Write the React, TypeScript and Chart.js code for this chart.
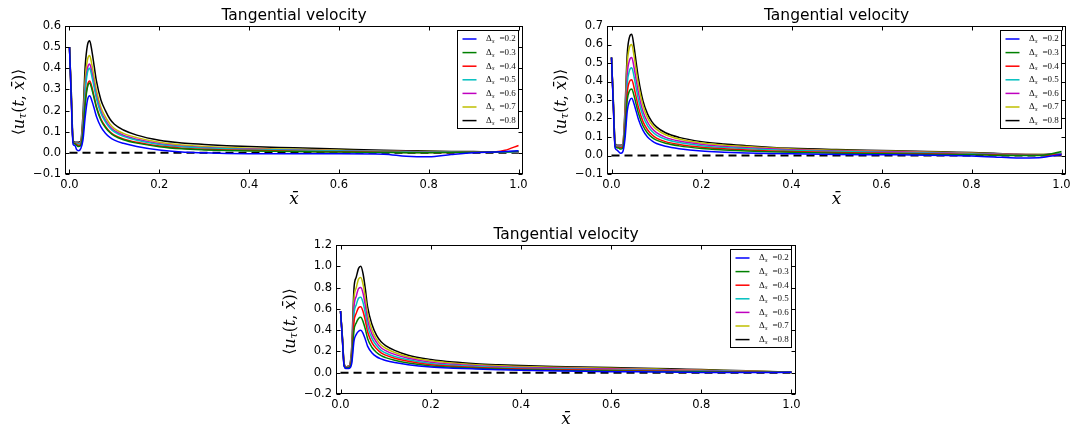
import React, { useEffect, useRef } from "react";
import { Chart, registerables } from "chart.js";
Chart.register(...registerables);

const TITLE = "Tangential velocity";
const X = [0, 0.004, 0.008, 0.012, 0.016, 0.02, 0.025, 0.03, 0.035, 0.04, 0.045, 0.05, 0.055, 0.06, 0.07, 0.08, 0.09, 0.1, 0.12, 0.15, 0.2, 0.25, 0.3, 0.35, 0.4, 0.5, 0.6, 0.7, 0.75, 0.8, 0.85, 0.9, 0.95, 0.97, 1.0];
const LABELS = ["0.2", "0.3", "0.4", "0.5", "0.6", "0.7", "0.8"];
const COLORS = ["#0000ff", "#008000", "#ff0000", "#00bfbf", "#bf00bf", "#bfbf00", "#000000"];
const X_TICKS = [0, 0.2, 0.4, 0.6, 0.8, 1.0];
const Y_TICKS_1 = [-0.1, 0, 0.1, 0.2, 0.3, 0.4, 0.5, 0.6];
const Y_TICKS_2 = [-0.1, 0, 0.1, 0.2, 0.3, 0.4, 0.5, 0.6, 0.7];
const Y_TICKS_3 = [-0.2, 0, 0.2, 0.4, 0.6, 0.8, 1.0, 1.2];
const ZERO_X = [0, 1];

// Panel 1
const P1_BLUE = [0.50, 0.25, 0.04, 0.035, 0.015, 0.01, 0.02, 0.06, 0.17, 0.25, 0.27, 0.245, 0.21, 0.172, 0.123, 0.093, 0.073, 0.06, 0.045, 0.03, 0.013, 0.004, 0.0, -0.003, -0.004, -0.004, -0.004, -0.006, -0.016, -0.019, -0.008, 0.001, 0.004, 0.006, 0.01];
const P1_GREEN = [0.50, 0.26, 0.05, 0.042, 0.035, 0.03, 0.035, 0.09, 0.23, 0.31, 0.33, 0.30, 0.257, 0.213, 0.154, 0.12, 0.096, 0.08, 0.062, 0.046, 0.029, 0.019, 0.014, 0.011, 0.009, 0.006, 0.004, 0.002, 0.001, 0.001, 0.002, 0.003, 0.004, 0.005, 0.008];
const P1_RED = [0.50, 0.26, 0.05, 0.045, 0.04, 0.035, 0.04, 0.10, 0.24, 0.32, 0.34, 0.31, 0.265, 0.22, 0.16, 0.125, 0.10, 0.084, 0.066, 0.05, 0.032, 0.022, 0.017, 0.014, 0.012, 0.008, 0.005, 0.003, 0.002, 0.002, 0.002, 0.003, 0.005, 0.012, 0.035];
const P1_CYAN = [0.50, 0.27, 0.05, 0.046, 0.045, 0.042, 0.045, 0.12, 0.29, 0.38, 0.40, 0.36, 0.31, 0.257, 0.187, 0.147, 0.118, 0.099, 0.078, 0.06, 0.04, 0.029, 0.023, 0.019, 0.016, 0.012, 0.009, 0.006, 0.005, 0.004, 0.004, 0.004, 0.004, 0.004, 0.006];
const P1_MAGENTA = [0.50, 0.27, 0.05, 0.047, 0.046, 0.044, 0.047, 0.13, 0.31, 0.40, 0.42, 0.38, 0.325, 0.27, 0.197, 0.155, 0.125, 0.105, 0.083, 0.064, 0.043, 0.031, 0.025, 0.021, 0.018, 0.014, 0.01, 0.007, 0.006, 0.005, 0.004, 0.004, 0.004, 0.004, 0.005];
const P1_YELLOW = [0.50, 0.28, 0.05, 0.048, 0.047, 0.046, 0.05, 0.15, 0.35, 0.44, 0.46, 0.415, 0.355, 0.295, 0.215, 0.17, 0.137, 0.115, 0.092, 0.072, 0.05, 0.037, 0.03, 0.025, 0.022, 0.017, 0.012, 0.008, 0.007, 0.006, 0.005, 0.004, 0.003, 0.003, 0.004];
const P1_BLACK = [0.50, 0.29, 0.06, 0.05, 0.05, 0.05, 0.055, 0.18, 0.41, 0.51, 0.53, 0.48, 0.41, 0.34, 0.25, 0.20, 0.16, 0.135, 0.108, 0.084, 0.06, 0.047, 0.04, 0.034, 0.03, 0.024, 0.018, 0.012, 0.01, 0.009, 0.007, 0.006, 0.005, 0.005, 0.005];

// Panel 2
const P2_BLUE = [0.53, 0.27, 0.04, 0.03, 0.02, 0.012, 0.02, 0.09, 0.24, 0.295, 0.31, 0.28, 0.237, 0.195, 0.136, 0.10, 0.079, 0.065, 0.05, 0.037, 0.024, 0.018, 0.014, 0.011, 0.009, 0.006, 0.004, 0.002, 0.0, -0.003, -0.008, -0.013, -0.012, -0.006, 0.005];
const P2_GREEN = [0.53, 0.28, 0.05, 0.042, 0.04, 0.035, 0.04, 0.13, 0.30, 0.35, 0.36, 0.324, 0.275, 0.227, 0.161, 0.122, 0.098, 0.083, 0.066, 0.052, 0.038, 0.03, 0.024, 0.02, 0.017, 0.012, 0.009, 0.007, 0.005, 0.004, 0.002, 0.0, 0.0, 0.005, 0.022];
const P2_RED = [0.53, 0.28, 0.05, 0.045, 0.045, 0.042, 0.045, 0.15, 0.34, 0.40, 0.41, 0.369, 0.313, 0.259, 0.183, 0.139, 0.112, 0.094, 0.075, 0.06, 0.045, 0.036, 0.03, 0.025, 0.021, 0.016, 0.013, 0.01, 0.008, 0.006, 0.004, 0.001, 0.001, 0.002, 0.006];
const P2_CYAN = [0.53, 0.29, 0.055, 0.048, 0.048, 0.047, 0.05, 0.18, 0.39, 0.46, 0.475, 0.428, 0.363, 0.30, 0.213, 0.162, 0.131, 0.11, 0.088, 0.07, 0.053, 0.043, 0.037, 0.031, 0.027, 0.021, 0.017, 0.013, 0.011, 0.009, 0.006, 0.003, 0.003, 0.004, 0.008];
const P2_MAGENTA = [0.53, 0.29, 0.06, 0.05, 0.05, 0.05, 0.054, 0.20, 0.44, 0.515, 0.53, 0.477, 0.405, 0.336, 0.238, 0.181, 0.146, 0.124, 0.098, 0.078, 0.06, 0.049, 0.042, 0.036, 0.031, 0.025, 0.021, 0.016, 0.013, 0.011, 0.008, 0.005, 0.004, 0.005, 0.009];
const P2_YELLOW = [0.53, 0.30, 0.065, 0.052, 0.052, 0.052, 0.057, 0.23, 0.50, 0.585, 0.60, 0.54, 0.458, 0.38, 0.27, 0.205, 0.166, 0.141, 0.112, 0.089, 0.068, 0.056, 0.048, 0.041, 0.035, 0.029, 0.024, 0.019, 0.016, 0.013, 0.01, 0.006, 0.005, 0.006, 0.01];
const P2_BLACK = [0.53, 0.30, 0.07, 0.055, 0.055, 0.055, 0.06, 0.25, 0.55, 0.64, 0.655, 0.59, 0.50, 0.415, 0.295, 0.225, 0.182, 0.155, 0.123, 0.098, 0.075, 0.062, 0.053, 0.045, 0.039, 0.032, 0.027, 0.022, 0.019, 0.016, 0.012, 0.007, 0.006, 0.007, 0.012];

// Panel 3
const P3_BLUE = [0.58, 0.32, 0.06, 0.04, 0.04, 0.042, 0.09, 0.30, 0.36, 0.39, 0.40, 0.37, 0.315, 0.25, 0.185, 0.15, 0.13, 0.115, 0.095, 0.075, 0.054, 0.043, 0.035, 0.028, 0.022, 0.015, 0.01, 0.007, 0.005, 0.003, 0.002, 0.002, 0.002, 0.003, 0.004];
const P3_GREEN = [0.58, 0.33, 0.065, 0.045, 0.047, 0.05, 0.12, 0.40, 0.47, 0.51, 0.52, 0.48, 0.41, 0.322, 0.237, 0.19, 0.16, 0.142, 0.117, 0.091, 0.064, 0.051, 0.042, 0.035, 0.028, 0.021, 0.016, 0.012, 0.01, 0.008, 0.006, 0.005, 0.004, 0.004, 0.004];
const P3_RED = [0.58, 0.33, 0.07, 0.048, 0.05, 0.055, 0.14, 0.48, 0.56, 0.61, 0.62, 0.575, 0.49, 0.385, 0.28, 0.225, 0.187, 0.165, 0.136, 0.107, 0.075, 0.06, 0.05, 0.042, 0.035, 0.028, 0.022, 0.017, 0.014, 0.012, 0.009, 0.007, 0.005, 0.005, 0.005];
const P3_CYAN = [0.58, 0.34, 0.075, 0.05, 0.052, 0.058, 0.16, 0.55, 0.64, 0.70, 0.71, 0.66, 0.56, 0.44, 0.32, 0.255, 0.21, 0.185, 0.153, 0.121, 0.087, 0.069, 0.058, 0.049, 0.042, 0.035, 0.028, 0.022, 0.019, 0.016, 0.013, 0.01, 0.007, 0.006, 0.006];
const P3_MAGENTA = [0.58, 0.34, 0.08, 0.052, 0.055, 0.062, 0.18, 0.62, 0.72, 0.79, 0.80, 0.745, 0.63, 0.495, 0.36, 0.285, 0.235, 0.208, 0.172, 0.136, 0.099, 0.079, 0.066, 0.057, 0.05, 0.042, 0.035, 0.028, 0.024, 0.02, 0.016, 0.012, 0.009, 0.008, 0.007];
const P3_YELLOW = [0.58, 0.35, 0.085, 0.055, 0.058, 0.065, 0.2, 0.70, 0.80, 0.88, 0.895, 0.83, 0.705, 0.553, 0.40, 0.315, 0.26, 0.23, 0.19, 0.15, 0.112, 0.09, 0.076, 0.066, 0.058, 0.049, 0.041, 0.034, 0.029, 0.025, 0.02, 0.015, 0.011, 0.009, 0.008];
const P3_BLACK = [0.58, 0.35, 0.09, 0.055, 0.06, 0.07, 0.25, 0.80, 0.90, 0.98, 1.0, 0.93, 0.79, 0.62, 0.45, 0.35, 0.29, 0.255, 0.21, 0.165, 0.125, 0.1, 0.085, 0.075, 0.067, 0.057, 0.048, 0.04, 0.035, 0.03, 0.024, 0.018, 0.012, 0.01, 0.008];

type PanelCfg = {
  left: number; top: number; width: number; height: number;
  yMin: number; yMax: number; yTicks: number[];
  series: number[][];
  yAxisW: number; xAxisH: number; padTop: number; padRight: number;
};

const PANELS: PanelCfg[] = [
  { left: 0, top: 0, width: 541, height: 216, yMin: -0.1, yMax: 0.6, yTicks: Y_TICKS_1,
    series: [P1_BLUE, P1_GREEN, P1_RED, P1_CYAN, P1_MAGENTA, P1_YELLOW, P1_BLACK],
    yAxisW: 65, xAxisH: 42, padTop: 26, padRight: 18 },
  { left: 541, top: 0, width: 542, height: 216, yMin: -0.1, yMax: 0.7, yTicks: Y_TICKS_2,
    series: [P2_BLUE, P2_GREEN, P2_RED, P2_CYAN, P2_MAGENTA, P2_YELLOW, P2_BLACK],
    yAxisW: 66, xAxisH: 42, padTop: 26, padRight: 17 },
  { left: 270, top: 218, width: 540, height: 215, yMin: -0.2, yMax: 1.2, yTicks: Y_TICKS_3,
    series: [P3_BLUE, P3_GREEN, P3_RED, P3_CYAN, P3_MAGENTA, P3_YELLOW, P3_BLACK],
    yAxisW: 66, xAxisH: 39, padTop: 27, padRight: 14 },
];

const fmt = (v: number) => (v < -1e-9 ? "\u2212" : "") + Math.abs(v).toFixed(1);

type Run = { t: string; font: string; dy?: number };
function drawRuns(ctx: CanvasRenderingContext2D, runs: Run[], cx: number, cy: number) {
  let total = 0;
  const widths = runs.map((r) => { ctx.font = r.font; const w = ctx.measureText(r.t).width; total += w; return w; });
  let x = cx - total / 2;
  ctx.textAlign = "left";
  ctx.textBaseline = "middle";
  runs.forEach((r, i) => { ctx.font = r.font; ctx.fillText(r.t, x, cy + (r.dy || 0)); x += widths[i]; });
}

const SERIF = '"DejaVu Serif", serif';
const SANS = '"DejaVu Sans", sans-serif';

const mplPlugin = {
  id: "mpl",
  afterDraw(chart: any) {
    const { ctx, chartArea: ca } = chart;
    const cfg: PanelCfg = chart.options.plugins.mpl.cfg;
    const xs = chart.scales.x, ys = chart.scales.y;
    const L = Math.round(ca.left) + 0.5, R = Math.round(ca.right) - 0.5;
    const T = Math.round(ca.top) + 0.5, B = Math.round(ca.bottom) - 0.5;
    ctx.save();
    // legend
    const bw = 61, bh = 98;
    const bx = Math.round(R - 5 - bw) + 0.5, by = Math.round(T + 3) + 0.5;
    ctx.fillStyle = "#fff";
    ctx.fillRect(bx, by, bw, bh);
    ctx.strokeStyle = "#000"; ctx.lineWidth = 1;
    ctx.strokeRect(bx, by, bw, bh);
    LABELS.forEach((lab, i) => {
      const y = by + 8.5 + i * 13.6;
      ctx.strokeStyle = COLORS[i]; ctx.lineWidth = 1.5;
      ctx.beginPath(); ctx.moveTo(bx + 5, y); ctx.lineTo(bx + 19, y); ctx.stroke();
      ctx.fillStyle = "#111";
      ctx.textBaseline = "middle"; ctx.textAlign = "left";
      ctx.font = '9px "Liberation Serif", serif';
      ctx.fillText("\u0394", bx + 28.5, y);
      ctx.font = 'italic 6.5px "Liberation Serif", serif';
      ctx.fillText("s", bx + 34.5, y + 2.5);
      ctx.font = '9px "Liberation Serif", serif';
      ctx.fillText("=" + lab, bx + 42, y);
    });
    // frame
    ctx.strokeStyle = "#000"; ctx.lineWidth = 1;
    ctx.strokeRect(L, T, R - L, B - T);
    ctx.beginPath();
    X_TICKS.forEach((v) => {
      const px = Math.round(xs.getPixelForValue(v)) + 0.5;
      ctx.moveTo(px, B); ctx.lineTo(px, B - 4);
      ctx.moveTo(px, T); ctx.lineTo(px, T + 4);
    });
    cfg.yTicks.forEach((v) => {
      const py = Math.round(ys.getPixelForValue(v)) + 0.5;
      ctx.moveTo(L, py); ctx.lineTo(L + 4, py);
      ctx.moveTo(R, py); ctx.lineTo(R - 4, py);
    });
    ctx.stroke();
    // title
    ctx.fillStyle = "#000";
    ctx.font = `15.5px ${SANS}`;
    ctx.textAlign = "center"; ctx.textBaseline = "middle";
    ctx.fillText(TITLE, (L + R) / 2, T - 10.5);
    // x label
    ctx.font = `italic 17px ${SERIF}`;
    ctx.fillText("x\u0304", (L + R) / 2, B + 26);
    // y label
    ctx.save();
    ctx.translate(L - 46, (T + B) / 2 + 2);
    ctx.rotate(-Math.PI / 2);
    drawRuns(ctx, [
      { t: "\u27E8", font: `15px ${SANS}` },
      { t: "u", font: `italic 16px ${SERIF}` },
      { t: "\u03C4", font: `italic 11px ${SERIF}`, dy: 4 },
      { t: "(", font: `16px ${SERIF}` },
      { t: "t", font: `italic 16px ${SERIF}` },
      { t: ", ", font: `16px ${SERIF}` },
      { t: "x\u0304", font: `italic 16px ${SERIF}` },
      { t: ")", font: `16px ${SERIF}` },
      { t: "\u27E9", font: `15px ${SANS}` },
    ], 0, 0);
    ctx.restore();
    ctx.restore();
  },
};

function Panel({ cfg }: { cfg: PanelCfg }) {
  const ref = useRef<HTMLCanvasElement>(null);
  useEffect(() => {
    const canvas = ref.current!;
    const datasets: any[] = cfg.series.map((s, i) => ({
      label: LABELS[i],
      data: X.map((x, j) => ({ x, y: s[j] })),
      borderColor: COLORS[i],
      borderWidth: 1.5,
      pointRadius: 0,
      cubicInterpolationMode: "monotone",
      fill: false,
    }));
    datasets.push({
      label: "zero",
      data: ZERO_X.map((x) => ({ x, y: 0 })),
      borderColor: "#000",
      borderWidth: 2,
      borderDash: [8, 5],
      pointRadius: 0,
      fill: false,
    });
    const tickFont = { family: '"DejaVu Sans", sans-serif', size: 11.5 };
    const chart = new Chart(canvas, {
      type: "line",
      data: { datasets },
      options: {
        responsive: false,
        animation: false,
        devicePixelRatio: 1,
        events: [],
        layout: { padding: { left: 0, right: cfg.padRight, top: cfg.padTop, bottom: 0 } },
        plugins: {
          legend: { display: false },
          title: { display: false },
          tooltip: { enabled: false },
          mpl: { cfg },
        } as any,
        scales: {
          x: {
            type: "linear", min: -0.01, max: 1.01,
            afterBuildTicks: (s: any) => { s.ticks = X_TICKS.map((v) => ({ value: v })); },
            afterFit: (s: any) => { s.height = cfg.xAxisH; },
            grid: { display: false, drawTicks: false },
            border: { display: false },
            ticks: { padding: 4, font: tickFont, color: "#000", maxRotation: 0, minRotation: 0, autoSkip: false, callback: (v: any) => fmt(Number(v)) },
          },
          y: {
            type: "linear", min: cfg.yMin, max: cfg.yMax,
            afterBuildTicks: (s: any) => { s.ticks = cfg.yTicks.map((v) => ({ value: v })); },
            afterFit: (s: any) => { s.width = cfg.yAxisW; },
            grid: { display: false, drawTicks: false },
            border: { display: false },
            ticks: { padding: 4, font: tickFont, color: "#000", autoSkip: false, callback: (v: any) => fmt(Number(v)) },
          },
        },
      } as any,
      plugins: [mplPlugin],
    });
    return () => chart.destroy();
  }, [cfg]);
  return (
    <canvas
      ref={ref}
      width={cfg.width}
      height={cfg.height}
      style={{ position: "absolute", left: cfg.left, top: cfg.top, width: cfg.width, height: cfg.height }}
    />
  );
}

export default function App() {
  return (
    <div style={{ position: "absolute", left: 0, top: 0, width: 1083, height: 433, background: "#fff" }}>
      {PANELS.map((p, i) => <Panel key={i} cfg={p} />)}
    </div>
  );
}
